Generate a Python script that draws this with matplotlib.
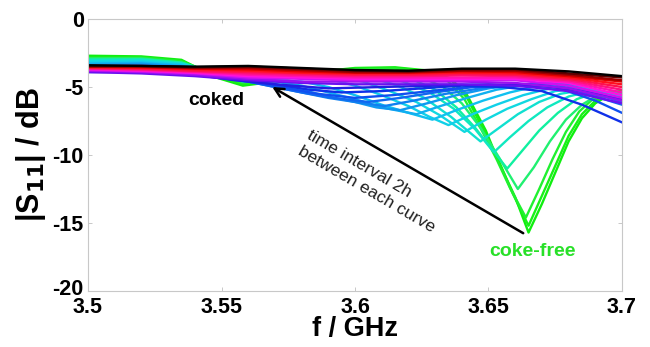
import matplotlib
matplotlib.use("Agg")
import matplotlib.pyplot as plt
from matplotlib.transforms import ScaledTranslation

plt.rcParams['font.family'] = ['Liberation Sans', 'DejaVu Sans']
plt.rcParams['axes.unicode_minus'] = False

# ---------------- data ----------------
x_ticks = [3.5, 3.55, 3.6, 3.65, 3.7]
x_tick_labels = ["3.5", "3.55", "3.6", "3.65", "3.7"]
y_ticks = [0, -5, -10, -15, -20]
y_tick_labels = ["0", "-5", "-10", "-15", "-20"]

# coke-free (green) ... coked (black), one curve every 2 h
f00 = [3.500,3.520,3.535,3.548,3.558,3.570,3.585,3.600,3.615,3.628,3.636,3.642,3.649,3.654,3.660,3.665,3.670,3.675,3.680,3.685,3.690,3.695,3.700]
s00 = [-2.7,-2.75,-3.0,-4.3,-4.9,-4.6,-3.9,-3.6,-3.55,-3.8,-4.4,-5.6,-8.2,-10.6,-13.1,-15.7,-13.6,-11.3,-9.0,-7.3,-6.2,-5.6,-5.3]
f01 = [3.500,3.520,3.535,3.548,3.558,3.570,3.585,3.600,3.615,3.628,3.636,3.642,3.648,3.654,3.659,3.665,3.670,3.675,3.680,3.685,3.690,3.695,3.700]
s01 = [-2.8,-2.8,-3.1,-4.2,-4.8,-4.5,-3.9,-3.65,-3.6,-3.85,-4.5,-5.8,-8.1,-10.5,-12.8,-15.2,-13.0,-10.8,-8.6,-7.0,-6.0,-5.5,-5.3]
f02 = [3.500,3.520,3.535,3.548,3.558,3.570,3.585,3.600,3.615,3.627,3.635,3.641,3.647,3.653,3.658,3.664,3.669,3.674,3.679,3.684,3.689,3.694,3.700]
s02 = [-2.9,-2.85,-3.1,-4.1,-4.7,-4.5,-3.95,-3.7,-3.65,-3.9,-4.6,-5.9,-8.0,-10.3,-12.4,-14.6,-12.5,-10.3,-8.3,-6.8,-5.9,-5.4,-5.3]
f03 = [3.500,3.520,3.535,3.548,3.558,3.570,3.585,3.600,3.612,3.624,3.633,3.640,3.647,3.654,3.661,3.667,3.673,3.679,3.685,3.691,3.700]
s03 = [-2.9,-2.9,-3.2,-4.1,-4.6,-4.4,-4.0,-3.75,-3.8,-4.2,-5.0,-6.2,-8.0,-10.2,-12.5,-10.9,-9.0,-7.4,-6.3,-5.6,-5.4]
f04 = [3.500,3.520,3.535,3.548,3.558,3.570,3.585,3.600,3.610,3.620,3.630,3.638,3.645,3.651,3.657,3.663,3.669,3.676,3.683,3.690,3.700]
s04 = [-3.0,-2.95,-3.2,-4.0,-4.6,-4.4,-4.0,-3.8,-3.9,-4.3,-5.2,-6.5,-8.0,-9.5,-11.0,-9.6,-8.2,-6.9,-5.9,-5.4,-5.4]
f05 = [3.500,3.520,3.535,3.548,3.558,3.570,3.585,3.598,3.608,3.618,3.628,3.637,3.645,3.652,3.658,3.665,3.672,3.680,3.688,3.700]
s05 = [-3.0,-3.0,-3.25,-4.0,-4.5,-4.4,-4.05,-3.9,-4.1,-4.6,-5.4,-6.6,-8.1,-9.8,-8.7,-7.5,-6.5,-5.7,-5.3,-5.5]
f06 = [3.500,3.520,3.535,3.548,3.560,3.572,3.585,3.596,3.606,3.616,3.626,3.636,3.647,3.654,3.661,3.669,3.677,3.686,3.700]
s06 = [-3.1,-3.05,-3.3,-4.0,-4.5,-4.4,-4.1,-4.0,-4.3,-4.9,-5.8,-7.2,-9.0,-8.0,-7.0,-6.1,-5.5,-5.2,-5.6]
f07 = [3.500,3.520,3.535,3.548,3.560,3.572,3.583,3.593,3.603,3.613,3.623,3.632,3.641,3.649,3.657,3.666,3.675,3.685,3.700]
s07 = [-3.1,-3.1,-3.3,-4.0,-4.4,-4.4,-4.2,-4.2,-4.6,-5.3,-6.1,-7.1,-8.3,-7.4,-6.6,-5.9,-5.3,-5.1,-5.7]
f08 = [3.500,3.520,3.535,3.548,3.560,3.570,3.580,3.590,3.600,3.610,3.620,3.628,3.635,3.644,3.653,3.663,3.673,3.684,3.700]
s08 = [-3.2,-3.15,-3.35,-4.0,-4.4,-4.4,-4.3,-4.4,-4.9,-5.6,-6.4,-7.2,-7.8,-7.0,-6.3,-5.6,-5.1,-5.0,-5.8]
f09 = [3.500,3.520,3.535,3.548,3.560,3.570,3.580,3.590,3.600,3.610,3.620,3.629,3.638,3.648,3.658,3.669,3.681,3.700]
s09 = [-3.3,-3.2,-3.4,-4.0,-4.4,-4.5,-4.6,-5.0,-5.6,-6.3,-6.9,-7.4,-6.7,-6.0,-5.4,-4.9,-4.8,-5.9]
f10 = [3.500,3.520,3.535,3.548,3.560,3.570,3.580,3.590,3.600,3.610,3.623,3.632,3.642,3.653,3.665,3.678,3.700]
s10 = [-3.3,-3.25,-3.45,-4.0,-4.4,-4.6,-4.9,-5.4,-5.9,-6.5,-7.0,-6.4,-5.8,-5.2,-4.8,-4.7,-6.0]
f11 = [3.500,3.520,3.535,3.548,3.560,3.570,3.580,3.590,3.600,3.608,3.617,3.627,3.638,3.650,3.663,3.677,3.700]
s11 = [-3.4,-3.3,-3.5,-4.0,-4.5,-4.8,-5.2,-5.7,-6.1,-6.5,-6.7,-6.2,-5.6,-5.1,-4.8,-4.7,-6.0]
f12 = [3.500,3.520,3.535,3.548,3.560,3.570,3.580,3.590,3.600,3.611,3.622,3.634,3.647,3.661,3.676,3.700]
s12 = [-3.5,-3.4,-3.6,-4.1,-4.6,-5.0,-5.4,-5.8,-6.1,-6.4,-6.0,-5.5,-5.1,-4.8,-4.7,-6.1]
f13 = [3.500,3.520,3.535,3.548,3.560,3.570,3.580,3.592,3.605,3.617,3.630,3.644,3.659,3.675,3.700]
s13 = [-3.6,-3.5,-3.7,-4.2,-4.6,-5.0,-5.4,-5.8,-6.1,-5.8,-5.4,-5.0,-4.8,-4.8,-6.3]
f14 = [3.500,3.520,3.535,3.548,3.560,3.572,3.586,3.600,3.614,3.628,3.643,3.658,3.675,3.690,3.700]
s14 = [-3.7,-3.65,-3.8,-4.3,-4.6,-5.0,-5.5,-5.8,-5.6,-5.3,-5.0,-4.9,-5.0,-6.0,-6.9]
f15 = [3.500,3.520,3.540,3.555,3.570,3.583,3.595,3.610,3.625,3.640,3.655,3.670,3.685,3.700]
s15 = [-3.8,-3.8,-4.0,-4.4,-4.8,-5.2,-5.4,-5.3,-5.1,-4.9,-5.0,-5.3,-6.3,-7.6]
f16 = [3.500,3.520,3.540,3.555,3.570,3.590,3.610,3.630,3.650,3.670,3.685,3.700]
s16 = [-3.9,-3.9,-4.1,-4.5,-4.8,-5.1,-5.0,-4.9,-4.8,-4.9,-5.3,-5.9]

# late (coked) curves share one frequency grid
f_band = [3.50,3.52,3.54,3.56,3.58,3.60,3.62,3.64,3.66,3.68,3.70]
s17 = [-3.9,-4.0,-4.2,-4.5,-4.7,-4.8,-4.8,-4.8,-4.9,-5.3,-6.2]
s18 = [-3.8,-3.9,-4.1,-4.4,-4.6,-4.6,-4.6,-4.6,-4.7,-5.1,-6.0]
s19 = [-3.75,-3.85,-4.0,-4.3,-4.4,-4.5,-4.5,-4.5,-4.5,-4.9,-5.8]
s20 = [-3.7,-3.8,-3.95,-4.2,-4.3,-4.4,-4.4,-4.4,-4.4,-4.7,-5.6]
s21 = [-3.65,-3.75,-3.9,-4.1,-4.2,-4.3,-4.3,-4.3,-4.3,-4.6,-5.4]
s22 = [-3.6,-3.7,-3.85,-4.0,-4.1,-4.2,-4.2,-4.15,-4.2,-4.5,-5.2]
s23 = [-3.6,-3.65,-3.8,-3.9,-4.0,-4.1,-4.1,-4.05,-4.1,-4.4,-5.0]
s24 = [-3.55,-3.6,-3.7,-3.8,-3.95,-4.0,-4.0,-3.95,-4.0,-4.3,-4.8]
s25 = [-3.5,-3.55,-3.65,-3.7,-3.85,-3.95,-3.95,-3.85,-3.9,-4.2,-4.6]
s26 = [-3.5,-3.5,-3.6,-3.6,-3.75,-3.9,-3.9,-3.8,-3.8,-4.1,-4.5]
s27 = [-3.45,-3.45,-3.55,-3.5,-3.65,-3.8,-3.85,-3.7,-3.7,-4.0,-4.3]
s28 = [-3.4,-3.45,-3.5,-3.45,-3.6,-3.75,-3.8,-3.65,-3.65,-3.85,-4.2]

curves = [(f00, s00), (f01, s01), (f02, s02), (f03, s03), (f04, s04), (f05, s05),
          (f06, s06), (f07, s07), (f08, s08), (f09, s09), (f10, s10), (f11, s11),
          (f12, s12), (f13, s13), (f14, s14), (f15, s15), (f16, s16),
          (f_band, s17), (f_band, s18), (f_band, s19), (f_band, s20), (f_band, s21),
          (f_band, s22), (f_band, s23), (f_band, s24), (f_band, s25), (f_band, s26),
          (f_band, s27), (f_band, s28)]

# ---------------- styles ----------------
curve_colors = [
    "#10ee10", "#18f018", "#20f030", "#20f070", "#10f0a0", "#10e8c0",
    "#10e0d0", "#10d8e0", "#10d0e8", "#10c0f0", "#10b0f0", "#1098f0",
    "#1080f0", "#1068f0", "#1050f0", "#1030e8", "#2020e0",
    "#6a10f0", "#9a10f0", "#d010f0", "#ff10e0", "#ff10b0", "#ff1080",
    "#ff1050", "#ff1020", "#e00000", "#a00000", "#600000", "#000000"]

fig = plt.figure(figsize=(6.5, 3.47), dpi=100)
ax = fig.add_axes([0.1354, 0.1614, 0.8215, 0.7838])

for (fx, sy), c in zip(curves, curve_colors):
    ax.plot(fx, sy, color=c, lw=1.7, solid_joinstyle='round')

ax.set_xlim(3.5, 3.7)
ax.set_ylim(-20, 0)
ax.set_xticks(x_ticks)
ax.set_xticklabels(x_tick_labels)
ax.set_yticks(y_ticks)
ax.set_yticklabels(y_tick_labels)

for sp in ax.spines.values():
    sp.set_color("#c8c8c8")
    sp.set_linewidth(0.8)
ax.tick_params(direction='in', length=3, width=0.7, color="#c8c8c8",
               top=True, right=True, labelsize=15.5)
ax.tick_params(axis='x', pad=4)
ax.tick_params(axis='y', pad=3)
for lab in ax.get_xticklabels() + ax.get_yticklabels():
    lab.set_fontweight('bold')
# the lowest y label sits slightly raised, as in the reference
low = ax.get_yticklabels()[-1]
low.set_transform(low.get_transform() + ScaledTranslation(0, 3 / 72, fig.dpi_scale_trans))

ax.set_xlabel("f / GHz", fontsize=19.5, fontweight='bold', labelpad=-1)
ax.set_ylabel(r"|S$_{\mathbf{11}}$| / dB", fontsize=22, fontweight='bold', labelpad=3)

ax.text(3.548, -6.0, "coked", fontsize=14, fontweight='bold', color='black',
        ha='center', va='center')
ax.text(3.6663, -17.1, "coke-free", fontsize=14, fontweight='bold', color='#28e028',
        ha='center', va='center')

ax.annotate("", xy=(3.569, -5.0), xytext=(3.663, -15.75),
            arrowprops=dict(arrowstyle='->', color='black', lw=1.8,
                            mutation_scale=16, shrinkA=0, shrinkB=0))
ax.text(3.5809, -9.04, "time interval 2h\nbetween each curve", fontsize=12.5,
        rotation=-30.3, rotation_mode='anchor', ha='left', va='center',
        multialignment='left', linespacing=1.3, color='#202020')

fig.savefig("out.png", dpi=100)
